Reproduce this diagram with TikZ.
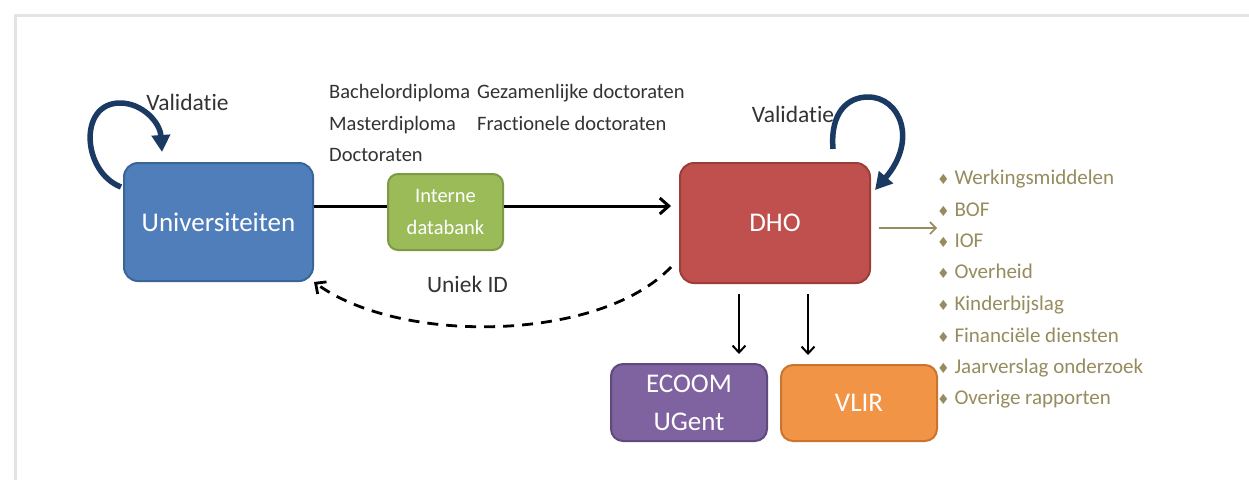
\documentclass[tikz,border=0pt]{standalone}
\usepackage{fontspec}
\setmainfont{Carlito}[Ligatures=CommonOff]
\newfontfamily\dejavu{DejaVu Sans}
\usetikzlibrary{arrows.meta}
\definecolor{framec}{HTML}{E4E4E4}
\definecolor{txt}{HTML}{333333}
\definecolor{navy}{HTML}{1B3A63}
\definecolor{olive}{HTML}{968C5E}
\definecolor{bluef}{HTML}{4F7EBA}\definecolor{blued}{HTML}{3A6597}
\definecolor{greenf}{HTML}{9BBB59}\definecolor{greend}{HTML}{7C9A45}
\definecolor{redf}{HTML}{C0504D}\definecolor{redd}{HTML}{9C3D3A}
\definecolor{purplef}{HTML}{7F62A0}\definecolor{purpled}{HTML}{5F4A7E}
\definecolor{orangef}{HTML}{F29446}\definecolor{oranged}{HTML}{C97431}
\begin{document}
\begin{tikzpicture}[x=1pt,y=1pt,
  box/.style={rounded corners=14pt, line width=2pt, inner sep=0pt, text=white, align=center},
  lbl/.style={text=txt, inner sep=0pt, text height=18pt, text depth=5pt},
  item/.style={text=olive, inner sep=0pt, anchor=west, text height=18pt, text depth=5pt,
               font=\fontsize{21}{25}\selectfont},
  main/.style={line width=3pt, -{Straight Barb[length=9pt,width=16pt,line width=3pt]}},
  down/.style={line width=2pt, -{Straight Barb[length=7pt,width=13pt,line width=2pt]}},
  loop/.style={navy, line width=5.5pt, -{Triangle[length=17pt,width=18pt]}}
]
\useasboundingbox (0,0) rectangle (1249,-480);
\fill[white] (0,0) rectangle (1249,-480);
\draw[framec, line width=3pt] (15,-480) -- (15,-15) -- (1249,-15);

% boxes
\node[box, fill=bluef, draw=blued, minimum width=189pt, minimum height=118pt,
      font=\fontsize{27}{32}\selectfont] (uni) at (218.5,-222) {Universiteiten};
\node[box, rounded corners=10pt, fill=greenf, draw=greend, minimum width=115pt, minimum height=76pt,
      font=\fontsize{20.5}{32}\selectfont] (int) at (445.5,-212) {Interne\\databank};
\node[box, fill=redf, draw=redd, minimum width=190pt, minimum height=120pt,
      font=\fontsize{27}{32}\selectfont] (dho) at (775,-223) {DHO};
\node[box, rounded corners=12pt, fill=purplef, draw=purpled, minimum width=156pt, minimum height=77pt,
      font=\fontsize{27}{38}\selectfont] (ecoom) at (689,-402.5) {ECOOM\\UGent};
\node[box, rounded corners=12pt, fill=orangef, draw=oranged, minimum width=156pt, minimum height=76pt,
      font=\fontsize{27}{32}\selectfont] (vlir) at (859,-403) {VLIR};

% labels
\node[lbl, font=\fontsize{23.5}{27}\selectfont] (val1) at (187.5,-104) {Validatie};
\node[lbl, font=\fontsize{23.5}{27}\selectfont] (val2) at (793,-116) {Validatie};
\node[lbl, font=\fontsize{23.5}{27}\selectfont] (uid) at (467.5,-286) {Uniek ID};
\node[lbl, anchor=west, font=\fontsize{20.5}{24}\selectfont] (t1) at (329,-92) {Bachelordiploma};
\node[lbl, anchor=west, font=\fontsize{20.5}{24}\selectfont] (t2) at (329,-124) {Masterdiploma};
\node[lbl, anchor=west, font=\fontsize{20.5}{24}\selectfont] (t3) at (329,-155) {Doctoraten};
\node[lbl, anchor=west, font=\fontsize{20.5}{24}\selectfont] (t4) at (477,-92) {Gezamenlijke doctoraten};
\node[lbl, anchor=west, font=\fontsize{20.5}{24}\selectfont] (t5) at (477,-124) {Fractionele doctoraten};

% list
\node[item] (l1) at (937,-178) {{\dejavu\fontsize{14}{15}\selectfont ♦} Werkingsmiddelen};
\node[item] (l2) at (937,-210) {{\dejavu\fontsize{14}{15}\selectfont ♦} BOF};
\node[item] (l3) at (937,-241) {{\dejavu\fontsize{14}{15}\selectfont ♦} IOF};
\node[item] (l4) at (937,-272) {{\dejavu\fontsize{14}{15}\selectfont ♦} Overheid};
\node[item] (l5) at (937,-304) {{\dejavu\fontsize{14}{15}\selectfont ♦} Kinderbijslag};
\node[item] (l6) at (937,-336) {{\dejavu\fontsize{14}{15}\selectfont ♦} Financiële diensten};
\node[item] (l7) at (937,-367) {{\dejavu\fontsize{14}{15}\selectfont ♦} Jaarverslag onderzoek};
\node[item] (l8) at (937,-398) {{\dejavu\fontsize{14}{15}\selectfont ♦} Overige rapporten};

% connectors
\coordinate (ln) at (0,-206);
\coordinate (tn) at (0,-228);
\coordinate (d1) at (739,0);
\coordinate (d2) at (808,0);
\draw[line width=3pt] (uni.east |- ln) -- (int.west |- ln);
\draw[main, shorten >=8pt] (int.east |- ln) -- (dho.west |- ln);
\draw[down, shorten <=10pt, shorten >=9pt] (dho.south -| d1) -- (ecoom.north -| d1);
\draw[down, shorten <=10pt, shorten >=9pt] (dho.south -| d2) -- (vlir.north -| d2);
\draw[olive, line width=1.6pt, -{Straight Barb[length=6pt,width=12pt,line width=1.6pt]}, shorten <=8pt]
  (dho.east |- tn) -- (l3.west |- tn);
\draw[line width=2.8pt, dash pattern=on 11pt off 8pt, -{Straight Barb[length=8pt,width=15pt,line width=2.8pt]}]
  ([xshift=-8pt,yshift=17pt]dho.south west) .. controls (600,-342) and (400,-345) .. (uni.south east);

% loops
\draw[loop] ([xshift=-2pt,yshift=-25pt]uni.north west) .. controls (82,-172) and (78,-103) .. (120,-103)
  .. controls (142,-103) and (160,-122) .. (162,-152);
\draw[loop] ([xshift=58pt,yshift=13pt]dho.north) .. controls (830,-112) and (848,-97) .. (868,-97)
  .. controls (900,-97) and (918,-140) .. (875,-190);
\end{tikzpicture}
\end{document}
